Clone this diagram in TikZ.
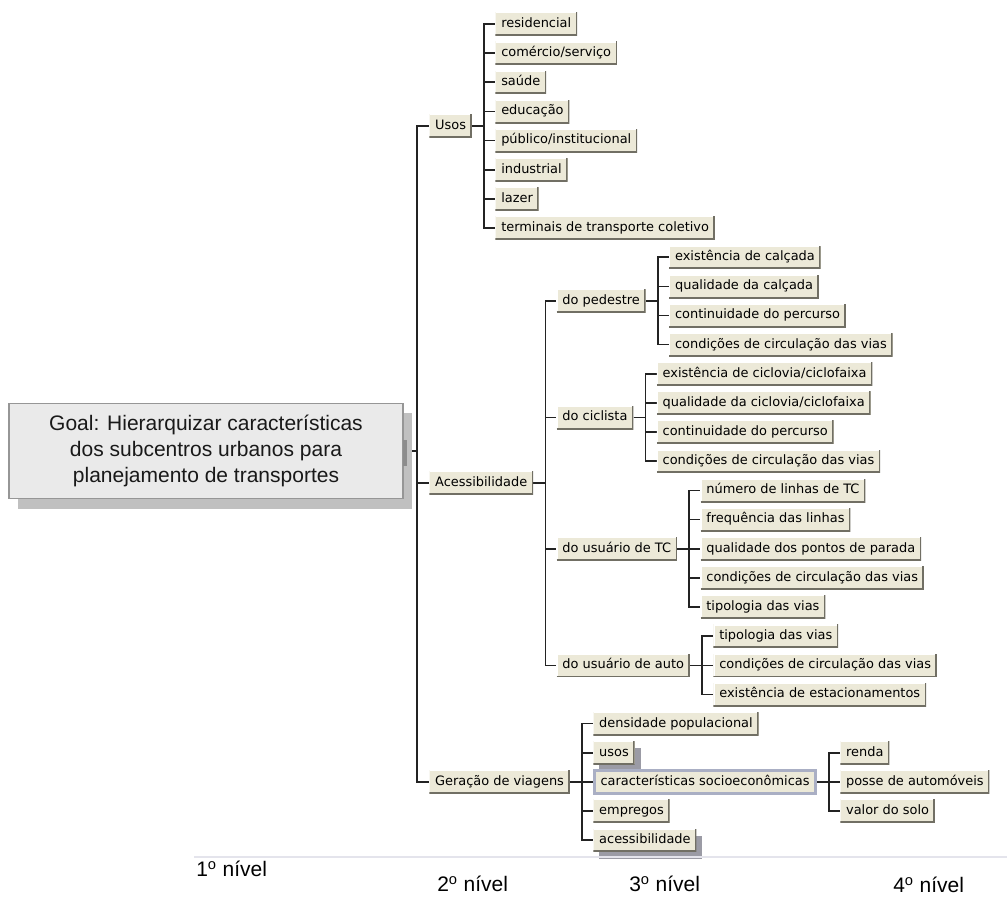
\documentclass[tikz,border=0pt]{standalone}
\usepackage{fontspec}
\setmainfont{Liberation Sans}
\newfontfamily\tnfamily{DejaVu Sans}
\usetikzlibrary{calc,backgrounds}
\definecolor{btn}{RGB}{236,233,216}
\definecolor{btndark}{RGB}{113,111,100}
\definecolor{goalfill}{RGB}{234,234,234}
\definecolor{goalline}{RGB}{150,150,150}
\definecolor{goalshadow}{RGB}{192,192,192}
\definecolor{handlecol}{RGB}{140,140,140}
\definecolor{selcol}{RGB}{170,175,196}
\definecolor{linkshadow}{RGB}{155,155,165}
\definecolor{rulecol}{RGB}{228,228,236}
\definecolor{conncol}{RGB}{35,35,35}
\newcommand\tnfont{\tnfamily\fontsize{9.7pt}{11pt}\selectfont}
\newcommand\goalfont{\fontsize{15.75pt}{19.5pt}\selectfont}
\newcommand\lvlfont{\fontsize{15.75pt}{18pt}\selectfont}
\begin{document}
\begin{tikzpicture}[x=0.75pt,y=-0.75pt,
  tn/.style={anchor=west, font=\tnfont, fill=btn, text=black, inner xsep=4.4pt, inner ysep=0pt,
    minimum height=17.5pt, text height=7.3pt, text depth=2.2pt,
    path picture={
      \draw[white, line width=1.6pt] (path picture bounding box.south west) |- (path picture bounding box.north east);
      \draw[btndark, line width=2.2pt] (path picture bounding box.south west) -| (path picture bounding box.north east);
    }},
  linked/.style={preaction={fill=linkshadow, transform canvas={shift={(4.5pt,-5.5pt)}}}},
  sel/.style={draw=selcol, line width=2.4pt},
  goalbox/.style={draw=goalline, line width=1.1pt, fill=goalfill, text=black!90,
    minimum width=295.5pt, minimum height=71.25pt, align=center, font=\goalfont, inner sep=0pt,
    preaction={fill=goalshadow, transform canvas={shift={(6.75pt,-7.5pt)}}}},
  handle/.style={fill=handlecol, minimum width=3pt, minimum height=19.5pt, inner sep=0pt},
  lvl/.style={anchor=west, font=\lvlfont, inner sep=0pt, text=black},
  conn/.style={draw=conncol, line width=1.2pt},
  rulestyle/.style={draw=rulecol, line width=1.6pt}
]
\useasboundingbox (0,0) rectangle (1007,898);
\foreach \k in {0,...,28}{\coordinate (r\k) at (0,{24+29.15*\k});}
\coordinate (hped) at (0,300.9);
\coordinate (hcic) at (0,417.5);

% goal
\node[goalbox] (goal) at (206,451) {Goal: Hierarquizar características\\dos subcentros urbanos para\\planejamento de transportes};
\node[handle] (hd) at (405,453) {};

% level 2
\node[tn] (usos) at (429,126.0) {Usos};
\node[tn] (acc) at (429,483.1) {Acessibilidade};
\node[tn] (ger) at (429,781.9) {Geração de viagens};

% Usos children
\path (usos.east) ++(23,0) coordinate (ux);
\node[tn] (u1) at (ux |- r0) {residencial};
\node[tn] (u2) at (ux |- r1) {comércio/serviço};
\node[tn] (u3) at (ux |- r2) {saúde};
\node[tn] (u4) at (ux |- r3) {educação};
\node[tn] (u5) at (ux |- r4) {público/institucional};
\node[tn] (u6) at (ux |- r5) {industrial};
\node[tn] (u7) at (ux |- r6) {lazer};
\node[tn] (u8) at (ux |- r7) {terminais de transporte coletivo};

% Acessibilidade children
\path (acc.east) ++(23,0) coordinate (ax);
\node[tn] (ped) at (ax |- hped) {do pedestre};
\node[tn] (cic) at (ax |- hcic) {do ciclista};
\node[tn] (tc) at (ax |- r18) {do usuário de TC};
\node[tn] (aut) at (ax |- r22) {do usuário de auto};

\path (ped.east) ++(23,0) coordinate (px);
\node[tn] (p1) at (px |- r8) {existência de calçada};
\node[tn] (p2) at (px |- r9) {qualidade da calçada};
\node[tn] (p3) at (px |- r10) {continuidade do percurso};
\node[tn] (p4) at (px |- r11) {condições de circulação das vias};

\path (cic.east) ++(23,0) coordinate (cx);
\node[tn] (c1) at (cx |- r12) {existência de ciclovia/ciclofaixa};
\node[tn] (c2) at (cx |- r13) {qualidade da ciclovia/ciclofaixa};
\node[tn] (c3) at (cx |- r14) {continuidade do percurso};
\node[tn] (c4) at (cx |- r15) {condições de circulação das vias};

\path (tc.east) ++(23,0) coordinate (tx);
\node[tn] (t1) at (tx |- r16) {número de linhas de TC};
\node[tn] (t2) at (tx |- r17) {frequência das linhas};
\node[tn] (t3) at (tx |- r18) {qualidade dos pontos de parada};
\node[tn] (t4) at (tx |- r19) {condições de circulação das vias};
\node[tn] (t5) at (tx |- r20) {tipologia das vias};

\path (aut.east) ++(23,0) coordinate (atx);
\node[tn] (a1) at (atx |- r21) {tipologia das vias};
\node[tn] (a2) at (atx |- r22) {condições de circulação das vias};
\node[tn] (a3) at (atx |- r23) {existência de estacionamentos};

% Geração children
\path (ger.east) ++(23,0) coordinate (gx);
\node[tn] (g1) at (gx |- r24) {densidade populacional};
\node[tn, linked] (g2) at (gx |- r25) {usos};
\node[tn, sel] (g3) at (gx |- r26) {características socioeconômicas};
\node[tn] (g4) at (gx |- r27) {empregos};
\node[tn, linked] (g5) at (gx |- r28) {acessibilidade};

\path (g3.east) ++(23,0) coordinate (sx);
\node[tn] (s1) at (sx |- r25) {renda};
\node[tn] (s2) at (sx |- r26) {posse de automóveis};
\node[tn] (s3) at (sx |- r27) {valor do solo};

% connectors
\begin{pgfonlayer}{background}
\path (usos.west) ++(-12,0) coordinate (tk);
\draw[conn] (usos.west) -- ++(-12,0) |- (ger.west);
\draw[conn] (acc.west) -- ++(-12,0);
\draw[conn] (goal.east) -- (goal.east -| tk);
\foreach \c in {u1,u2,u3,u4,u5,u6,u7,u8} \draw[conn] (usos.east) -- ++(12,0) |- (\c.west);
\foreach \c in {ped,cic,tc,aut} \draw[conn] (acc.east) -- ++(12,0) |- (\c.west);
\foreach \c in {p1,p2,p3,p4} \draw[conn] (ped.east) -- ++(12,0) |- (\c.west);
\foreach \c in {c1,c2,c3,c4} \draw[conn] (cic.east) -- ++(12,0) |- (\c.west);
\foreach \c in {t1,t2,t3,t4,t5} \draw[conn] (tc.east) -- ++(12,0) |- (\c.west);
\foreach \c in {a1,a2,a3} \draw[conn] (aut.east) -- ++(12,0) |- (\c.west);
\foreach \c in {g1,g2,g3,g4,g5} \draw[conn] (ger.east) -- ++(12,0) |- (\c.west);
\foreach \c in {s1,s2,s3} \draw[conn] (g3.east) -- ++(12,0) |- (\c.west);
\end{pgfonlayer}

% level rule and labels
\coordinate (ruleA) at (194,857);
\coordinate (ruleB) at (1007,857);
\draw[rulestyle] (ruleA) -- (ruleB);
\node[lvl] (l1) at (196,869) {1\textsuperscript{o} nível};
\node[lvl] (l2) at (437,884) {2\textsuperscript{o} nível};
\node[lvl] (l3) at (629,884) {3\textsuperscript{o} nível};
\node[lvl] (l4) at (893,885) {4\textsuperscript{o} nível};
\end{tikzpicture}
\end{document}
